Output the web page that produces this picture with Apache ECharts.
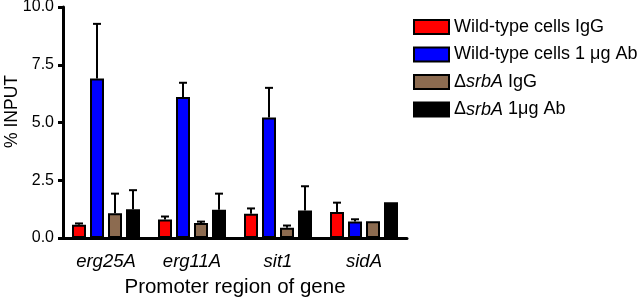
<!DOCTYPE html>
<html>
<head>
<meta charset="utf-8">
<script src="https://cdn.jsdelivr.net/npm/echarts@6/dist/echarts.min.js"></script>
<style>
  html, body { margin: 0; padding: 0; background: #fff; }
  #chart { width: 641px; height: 298px; }
</style>
</head>
<body>
<div id="chart"></div>
<script>
const genes = ["erg25A", "erg11A", "sit1", "sidA"];
const seriesNames = [
  "Wild-type cells IgG",
  "Wild-type cells 1 μg Ab",
  "ΔsrbA IgG",
  "ΔsrbA 1μg Ab",
];
const colors = ["#ff0000", "#0000ff", "#8c6b50", "#000000"];
const wtIgG = [0.57, 0.8, 1.05, 1.13];
const wtAb = [6.9, 6.1, 5.22, 0.71];
const srbIgG = [1.07, 0.65, 0.44, 0.72];
const srbAb = [1.24, 1.22, 1.19, 1.55];
// top of error bar (mean + SD), null = no visible bar
const wtIgGErr = [0.63, 0.93, 1.28, 1.53];
const wtAbErr = [9.27, 6.72, 6.5, 0.81];
const srbIgGErr = [1.92, 0.71, 0.54, null];
const srbAbErr = [2.07, 1.92, 2.24, null];

const values = [wtIgG, wtAb, srbIgG, srbAb];
const errs = [wtIgGErr, wtAbErr, srbIgGErr, srbAbErr];

const barW = 14, gapW = 4;

const chart = echarts.init(document.getElementById("chart"));

const barSeries = values.map((v, i) => ({
  name: seriesNames[i],
  type: "bar",
  data: v,
  barWidth: barW,
  barGap: (gapW / barW * 100) + "%",
  itemStyle: { color: colors[i], borderColor: "#000", borderWidth: 2 },
  z: 2,
}));

const errSeries = errs.map((e, i) => ({
  type: "custom",
  data: e.map((top, k) => [k, values[i][k], top]),
  z: 1,
  renderItem: (params, api) => {
    const top = api.value(2);
    if (top == null || isNaN(top)) return;
    const c = api.coord([api.value(0), api.value(1)]);
    const t = api.coord([api.value(0), top]);
    const x = c[0] - (4 * barW + 3 * gapW) / 2 + barW / 2 + i * (barW + gapW);
    return {
      type: "group",
      children: [
        { type: "line", shape: { x1: x, y1: c[1], x2: x, y2: t[1] }, style: { stroke: "#000", lineWidth: 2 } },
        { type: "line", shape: { x1: x - 4, y1: t[1], x2: x + 4, y2: t[1] }, style: { stroke: "#000", lineWidth: 2 } },
      ],
    };
  },
}));

const fmtLegend = (name) => {
  if (name.startsWith("Δ")) {
    return name.replace("ΔsrbA", "Δ{i|srbA}");
  }
  return name;
};

chart.setOption({
  animation: false,
  textStyle: { fontFamily: "Liberation Sans, Arial, sans-serif" },
  legend: {
    data: seriesNames,
    orient: "vertical",
    left: 408,
    top: 13,
    itemWidth: 35,
    itemHeight: 14,
    itemGap: 9.5,
    icon: "rect",
    formatter: fmtLegend,
    textStyle: {
      fontSize: 18,
      color: "#000",
      fontFamily: "Liberation Sans, Arial, sans-serif",
      rich: { i: { fontSize: 18, fontStyle: "italic", color: "#000" } },
    },
    selectedMode: false,
  },
  grid: { left: 63, right: 234, top: 7, bottom: 60, outerBoundsMode: "none" },
  xAxis: {
    type: "category",
    data: genes,
    name: "Promoter region of gene",
    nameLocation: "middle",
    nameGap: 39,
    nameMoveOverlap: false,
    nameTextStyle: { fontSize: 20.5, color: "#000" },
    axisLine: { lineStyle: { color: "#000", width: 3 } },
    axisTick: { alignWithLabel: true, length: 6, lineStyle: { color: "#000", width: 3 } },
    axisLabel: { fontSize: 18.5, fontStyle: "italic", color: "#000", margin: 14 },
  },
  yAxis: {
    type: "value",
    min: 0,
    max: 10,
    interval: 2.5,
    name: "% INPUT",
    nameLocation: "middle",
    nameGap: 42,
    nameMoveOverlap: false,
    nameTextStyle: { fontSize: 17.5, color: "#000", padding: [0, 0, 0, 22] },
    axisLine: { show: true, lineStyle: { color: "#000", width: 3 } },
    axisTick: { show: true, length: 5, lineStyle: { color: "#000", width: 3 } },
    axisLabel: { fontSize: 16, color: "#000", formatter: (v) => v.toFixed(1), margin: 9 },
    splitLine: { show: false },
  },
  series: [...barSeries, ...errSeries],
});
</script>
</body>
</html>
